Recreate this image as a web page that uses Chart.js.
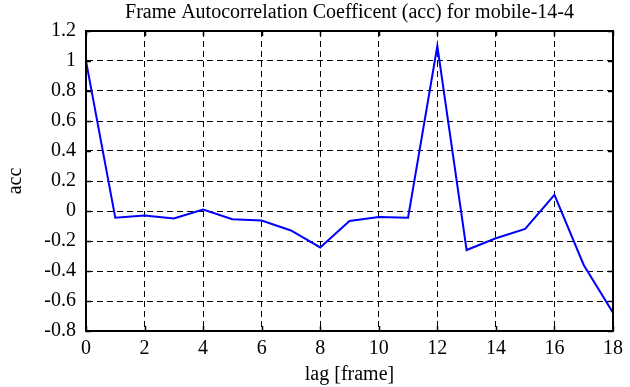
<!DOCTYPE html>
<html>
<head>
<meta charset="utf-8">
<script src="https://cdn.jsdelivr.net/npm/chart.js@4.4.1/dist/chart.umd.min.js"></script>
<style>
html, body { margin: 0; padding: 0; background: #fff; }
#wrap { width: 630px; height: 387px; }
</style>
</head>
<body>
<div id="wrap"><canvas id="grafacc" width="630" height="387"></canvas></div>
<script>
// valores
var lag = [0, 1, 2, 3, 4, 5, 6, 7, 8, 9, 10, 11, 12, 13, 14, 15, 16, 17, 18];
var acc = [1.0, -0.045, -0.03, -0.05, 0.01, -0.055, -0.063, -0.13, -0.243, -0.067, -0.04, -0.045, 1.1, -0.26, -0.182, -0.12, 0.107, -0.36, -0.678];
var yMin = -0.8, yMax = 1.2, yStep = 0.2;
var xMin = 0, xMax = 18, xStep = 2;

var puntos = [];
for (var i in lag){
    puntos.push({x: lag[i], y: acc[i]});
}

var fuente = "'Liberation Serif', 'DejaVu Serif', serif";

// marco y marcas hacia adentro
var marco = {
    id: "marco",
    afterDatasetsDraw: function(chart){
        var ctx = chart.ctx, a = chart.chartArea;
        var sx = chart.scales.x, sy = chart.scales.y;
        ctx.save();
        ctx.strokeStyle = "#000";
        ctx.lineWidth = 1.5;
        ctx.beginPath();
        sx.ticks.forEach(function(t){
            var px = Math.round(sx.getPixelForValue(t.value)) + 0.5;
            ctx.moveTo(px, a.bottom); ctx.lineTo(px, a.bottom - 5);
            ctx.moveTo(px, a.top); ctx.lineTo(px, a.top + 5);
        });
        sy.ticks.forEach(function(t){
            var py = Math.round(sy.getPixelForValue(t.value)) + 0.5;
            ctx.moveTo(a.left, py); ctx.lineTo(a.left + 5, py);
            ctx.moveTo(a.right, py); ctx.lineTo(a.right - 5, py);
        });
        ctx.stroke();
        ctx.lineWidth = 2;
        ctx.strokeRect(a.left, a.top, a.right - a.left, a.bottom - a.top);
        ctx.restore();
    }
};

var isaccchart = document.getElementById("grafacc");
var accChart = new Chart(isaccchart, {
    type: "line",
    data: {
        datasets: [
            {
                label: "acc",
                data: puntos,
                borderColor: "#0000ff",
                backgroundColor: "#0000ff",
                borderWidth: 2,
                pointRadius: 0,
                tension: 0,
                fill: false,
            },
        ],
    },
    options: {
        responsive: false,
        animation: false,
        layout: { padding: { left: 4, right: 17, top: 0, bottom: 0 } },
        scales: {
            x: {
                type: "linear",
                min: xMin,
                max: xMax,
                afterFit: function(s){ s.height = 56; },
                ticks: {
                    stepSize: xStep,
                    color: "#000",
                    padding: 6,
                    font: { family: fuente, size: 20 },
                },
                grid: { color: "#000", lineWidth: 1, drawTicks: false },
                border: { display: true, color: "#000", width: 2, dash: [6, 4] },
                title: {
                    display: true,
                    text: "lag [frame]",
                    color: "#000",
                    padding: { top: 2, bottom: 0 },
                    font: { family: fuente, size: 20 },
                },
            },
            y: {
                min: yMin,
                max: yMax,
                afterFit: function(s){ s.width = 82; },
                ticks: {
                    stepSize: yStep,
                    color: "#000",
                    padding: 10,
                    font: { family: fuente, size: 20 },
                    callback: function(v){
                        var r = parseFloat(Number(v).toFixed(1));
                        if (r === 0) r = 0;
                        return r.toString();
                    },
                },
                grid: { color: "#000", lineWidth: 1, drawTicks: false },
                border: { display: true, color: "#000", width: 2, dash: [6, 4] },
                title: {
                    display: true,
                    text: "acc",
                    color: "#000",
                    padding: { top: 0, bottom: 0 },
                    font: { family: fuente, size: 20 },
                },
            },
        },
        plugins: {
            legend: { display: false },
            tooltip: { enabled: false },
            title: {
                display: true,
                fullSize: false,
                text: "Frame Autocorrelation Coefficent (acc) for mobile-14-4",
                color: "#000",
                padding: { top: 1, bottom: 6 },
                font: { family: fuente, size: 20, weight: "normal" },
            },
        },
    },
    plugins: [marco],
});
</script>
</body>
</html>
